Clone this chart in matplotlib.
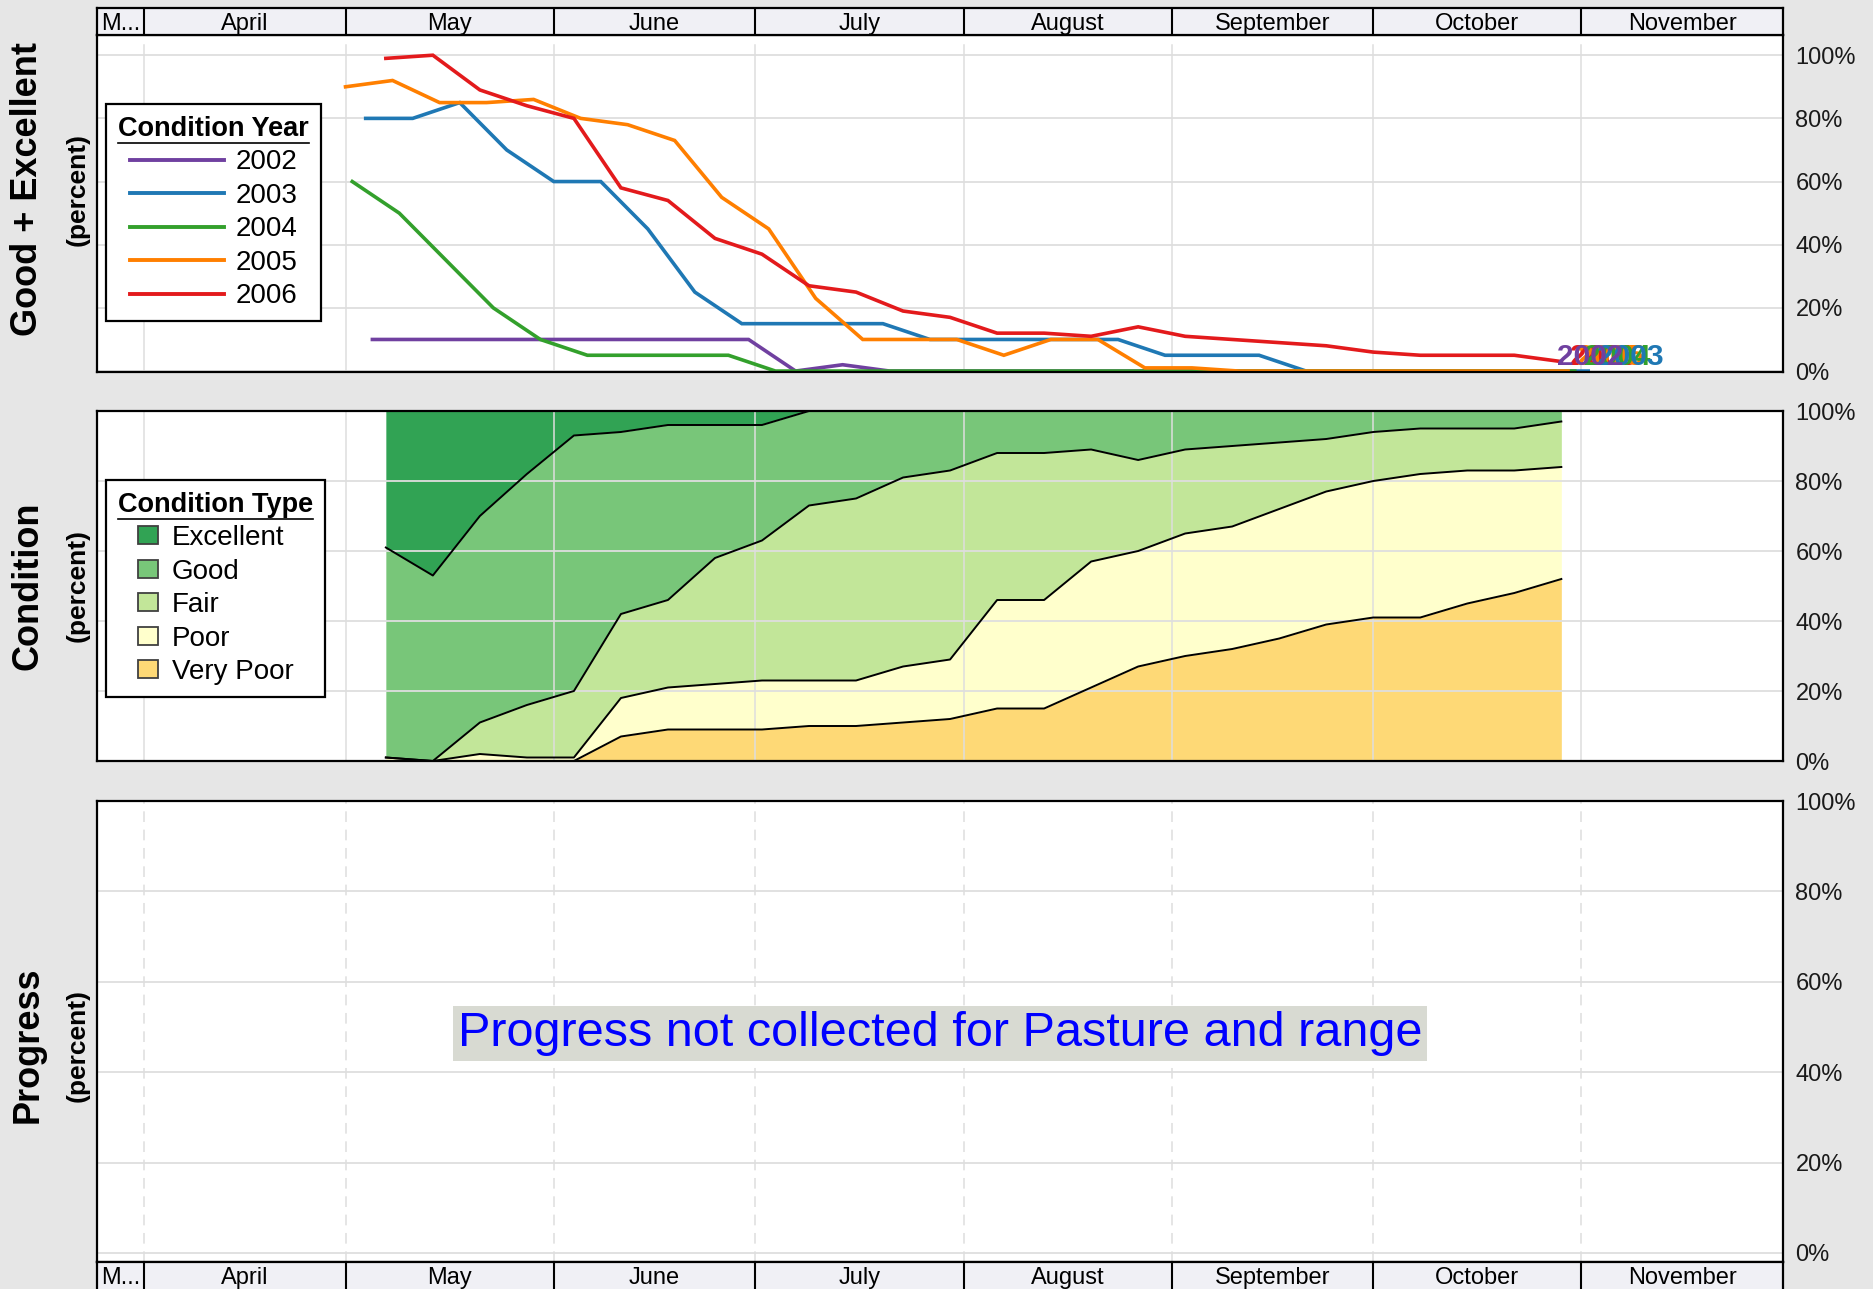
import matplotlib
matplotlib.use('Agg')
import matplotlib.pyplot as plt
import numpy as np
from matplotlib.lines import Line2D
from matplotlib.patches import Patch
from matplotlib.transforms import IdentityTransform

plt.rcParams['font.family'] = ['Liberation Sans', 'DejaVu Sans']

# ---------------- data ----------------
month_labels = ['M...', 'April', 'May', 'June', 'July', 'August', 'September', 'October', 'November']
month_edges = [84, 91, 121, 152, 182, 213, 244, 274, 305, 335]   # day-of-year boundaries
pct_ticks = [0, 20, 40, 60, 80, 100]
pct_labels = ['0%', '20%', '40%', '60%', '80%', '100%']

years = ['2002', '2003', '2004', '2005', '2006']
year_colors = ['#7040a0', '#1f78b4', '#33a02c', '#ff7f00', '#e31a1c']

days_2002 = [125, 132, 139, 146, 153, 160, 167, 174, 181, 188, 195, 202, 209, 216, 223,
             230, 237, 244, 251, 258, 265, 272, 279, 286, 293, 300]
ge_2002 = [10, 10, 10, 10, 10, 10, 10, 10, 10, 0, 2, 0, 0, 0, 0,
           0, 0, 0, 0, 0, 0, 0, 0, 0, 0, 0]

days_2003 = [124, 131, 138, 145, 152, 159, 166, 173, 180, 187, 194, 201, 208, 215, 222,
             229, 236, 243, 250, 257, 264, 271, 278, 285, 292, 299, 306]
ge_2003 = [80, 80, 85, 70, 60, 60, 45, 25, 15, 15, 15, 15, 10, 10, 10,
           10, 10, 5, 5, 5, 0, 0, 0, 0, 0, 0, 0]

days_2004 = [122, 129, 136, 143, 150, 157, 164, 171, 178, 185, 192, 199, 206, 213, 220,
             227, 234, 241, 248, 255, 262, 269, 276, 283, 290, 297, 304]
ge_2004 = [60, 50, 35, 20, 10, 5, 5, 5, 5, 0, 0, 0, 0, 0, 0,
           0, 0, 0, 0, 0, 0, 0, 0, 0, 0, 0, 0]

days_2005 = [121, 128, 135, 142, 149, 156, 163, 170, 177, 184, 191, 198, 205, 212, 219,
             226, 233, 240, 247, 254, 261, 268, 275, 282, 289, 296, 303]
ge_2005 = [90, 92, 85, 85, 86, 80, 78, 73, 55, 45, 23, 10, 10, 10, 5,
           10, 10, 1, 1, 0, 0, 0, 0, 0, 0, 0, 0]

days_2006 = [127, 134, 141, 148, 155, 162, 169, 176, 183, 190, 197, 204, 211, 218, 225,
             232, 239, 246, 253, 260, 267, 274, 281, 288, 295, 302]
ge_2006 = [99, 100, 89, 84, 80, 58, 54, 42, 37, 27, 25, 19, 17, 12, 12,
           11, 14, 11, 10, 9, 8, 6, 5, 5, 5, 3]

cond_types = ['Excellent', 'Good', 'Fair', 'Poor', 'Very Poor']
cond_colors = ['#31a354', '#78c679', '#c2e699', '#ffffcc', '#fed976']
cond_days = [127, 134, 141, 148, 155, 162, 169, 176, 183, 190, 197, 204, 211, 218, 225,
             232, 239, 246, 253, 260, 267, 274, 281, 288, 295, 302]
very_poor = [0, 0, 0, 0, 0, 7, 9, 9, 9, 10, 10, 11, 12, 15, 15,
             21, 27, 30, 32, 35, 39, 41, 41, 45, 48, 52]
poor = [1, 0, 2, 1, 1, 11, 12, 13, 14, 13, 13, 16, 17, 31, 31,
        36, 33, 35, 35, 37, 38, 39, 41, 38, 35, 32]
fair = [0, 0, 9, 15, 19, 24, 25, 36, 40, 50, 52, 54, 54, 42, 42,
        32, 26, 24, 23, 19, 15, 14, 13, 12, 12, 13]
good = [60, 53, 59, 66, 73, 52, 50, 38, 33, 27, 25, 19, 17, 12, 12,
        11, 14, 11, 10, 9, 8, 6, 5, 5, 5, 3]
excellent = [39, 47, 30, 18, 7, 6, 4, 4, 4, 0, 0, 0, 0, 0, 0,
             0, 0, 0, 0, 0, 0, 0, 0, 0, 0, 0]

progress_note = 'Progress not collected for Pasture and range'

# ---------------- layout ----------------
W, H = 1874, 1289
fig = plt.figure(figsize=(W / 100, H / 100), dpi=100, facecolor='#e6e6e6')


def fr(x0, y0, x1, y1):
    return [x0 / W, 1 - y1 / H, (x1 - x0) / W, (y1 - y0) / H]


ax1 = fig.add_axes(fr(97, 35, 1783, 372))
hd1 = fig.add_axes(fr(97, 8, 1783, 35))
ax2 = fig.add_axes(fr(97, 411, 1783, 761))
ax3 = fig.add_axes(fr(97, 801, 1783, 1262))
hd3 = fig.add_axes(fr(97, 1262, 1783, 1292))

GRID = '#dedede'


def style(ax, ylim):
    ax.set_xlim(month_edges[0], month_edges[-1])
    ax.set_ylim(*ylim)
    ax.set_facecolor('white')
    ax.set_xticks([])
    ax.yaxis.tick_right()
    ax.set_yticks(pct_ticks)
    ax.set_yticklabels(pct_labels)
    ax.tick_params(axis='y', length=0, pad=9, labelsize=17, labelcolor='#1a1a1a')
    for s in ax.spines.values():
        s.set_linewidth(1.6)
        s.set_color('black')
        s.set_zorder(20)


def header(hx, base):
    hx.set_xlim(month_edges[0], month_edges[-1])
    hx.set_ylim(0, 1)
    hx.set_facecolor('#f0f0f5')
    hx.set_xticks([])
    hx.set_yticks([])
    for e in month_edges[1:-1]:
        hx.axvline(e, color='black', lw=1.5)
    for i, lab in enumerate(month_labels):
        hx.text((month_edges[i] + month_edges[i + 1]) / 2, base, lab,
                ha='center', va='baseline', fontsize=17, color='black')
    for s in hx.spines.values():
        s.set_linewidth(1.6)


header(hd1, 0.185)
header(hd3, 0.267)

# ---------- top panel: Good + Excellent ----------
style(ax1, (-0.3, 106.4))
for t in pct_ticks:
    ax1.axhline(t, color=GRID, lw=1.3, zorder=0.5)
for e in month_edges[1:-1]:
    ax1.axvline(e, ymax=0.97, color=GRID, lw=1.1, zorder=0.5)

series = [(days_2002, ge_2002), (days_2003, ge_2003), (days_2004, ge_2004),
          (days_2005, ge_2005), (days_2006, ge_2006)]
for (d, v), c in zip(series, year_colors):
    ax1.plot(d, v, color=c, lw=2.6, zorder=3, solid_joinstyle='miter')

for i in reversed(range(len(years))):
    d, v = series[i]
    ax1.annotate(years[i], xy=(d[-1], 0), xytext=(6.5, 4.7), textcoords='offset points',
                 color=year_colors[i], fontsize=21.5, fontweight='bold',
                 ha='left', va='baseline', zorder=5 + (len(years) - i), annotation_clip=False)

h1 = [Line2D([0], [0], color=c, lw=2.8) for c in year_colors]
leg1 = ax1.legend(h1, years, title='Condition Year', loc='upper left',
                  bbox_to_anchor=(9.5 / 1686, 0.795), borderaxespad=0,
                  fontsize=20, title_fontproperties={'size': 19.5, 'weight': 'bold'},
                  handlelength=3.4, handletextpad=0.4, labelspacing=0.27,
                  borderpad=0.42, fancybox=False, framealpha=1, edgecolor='black')
leg1.get_frame().set_linewidth(1.6)
leg1.set_zorder(30)

# ---------- middle panel: Condition ----------
style(ax2, (0, 100))
vp = np.array(very_poor, dtype=float)
p_top = vp + np.array(poor)
f_top = p_top + np.array(fair)
g_top = f_top + np.array(good)
e_top = g_top + np.array(excellent)
bottoms = [g_top, f_top, p_top, vp, np.zeros_like(vp)]
tops = [e_top, g_top, f_top, p_top, vp]
for b, t, c in zip(bottoms, tops, cond_colors):
    ax2.fill_between(cond_days, b, t, color=c, lw=0, zorder=1)
for t in pct_ticks:
    ax2.axhline(t, color=GRID, lw=1.3, zorder=2)
for e in month_edges[1:-1]:
    ax2.axvline(e, color=GRID, lw=1.1, zorder=2)
for b in (vp, p_top, f_top, g_top):
    ax2.plot(cond_days, b, color='black', lw=1.4, zorder=3)

h2 = [Patch(facecolor=c, edgecolor='#404040', lw=1.3) for c in cond_colors]
leg2 = ax2.legend(h2, cond_types, title='Condition Type', loc='upper left',
                  bbox_to_anchor=(9.5 / 1686, 0.803), borderaxespad=0,
                  fontsize=20, title_fontproperties={'size': 19.5, 'weight': 'bold'},
                  handlelength=0.7, handleheight=0.62, handletextpad=0.5,
                  labelspacing=0.27, borderpad=0.42, fancybox=False, framealpha=1,
                  edgecolor='black')
leg2.get_frame().set_linewidth(1.6)
leg2.set_zorder(30)

# ---------- bottom panel: Progress ----------
style(ax3, (-2, 100))
for t in pct_ticks:
    ax3.axhline(t, color=GRID, lw=1.3, zorder=0.5)
for e in month_edges[1:-1]:
    ax3.axvline(e, color=GRID, lw=1.1, dashes=(7, 5), zorder=0.5)
ax3.text(0.5, 0.496, progress_note, transform=ax3.transAxes, ha='center', va='center',
         fontsize=35, color='#0000ff',
         bbox=dict(boxstyle='square,pad=0.1', fc='#d8dad2', ec='none'))

# ---------- y labels ----------
for yc, big in [(189, 'Good + Excellent'), (586, 'Condition'), (1045, 'Progress')]:
    fig.text(28 / W, 1 - yc / H, big, rotation=90, ha='center', va='center',
             fontsize=26, fontweight='bold', color='black')
    fig.text(78 / W, 1 - yc / H, '(percent)', rotation=90, ha='center', va='center',
             fontsize=19, fontweight='bold', color='black')

# ---------- legend title underlines ----------
fig.canvas.draw()
renderer = fig.canvas.get_renderer()
for lg in (leg1, leg2):
    bb = lg.get_title().get_window_extent(renderer)
    fig.add_artist(Line2D([bb.x0, bb.x1], [bb.y0 - 1, bb.y0 - 1], transform=IdentityTransform(),
                          color='black', lw=1.2, zorder=40))

fig.savefig('out.png', dpi=100, facecolor=fig.get_facecolor())
